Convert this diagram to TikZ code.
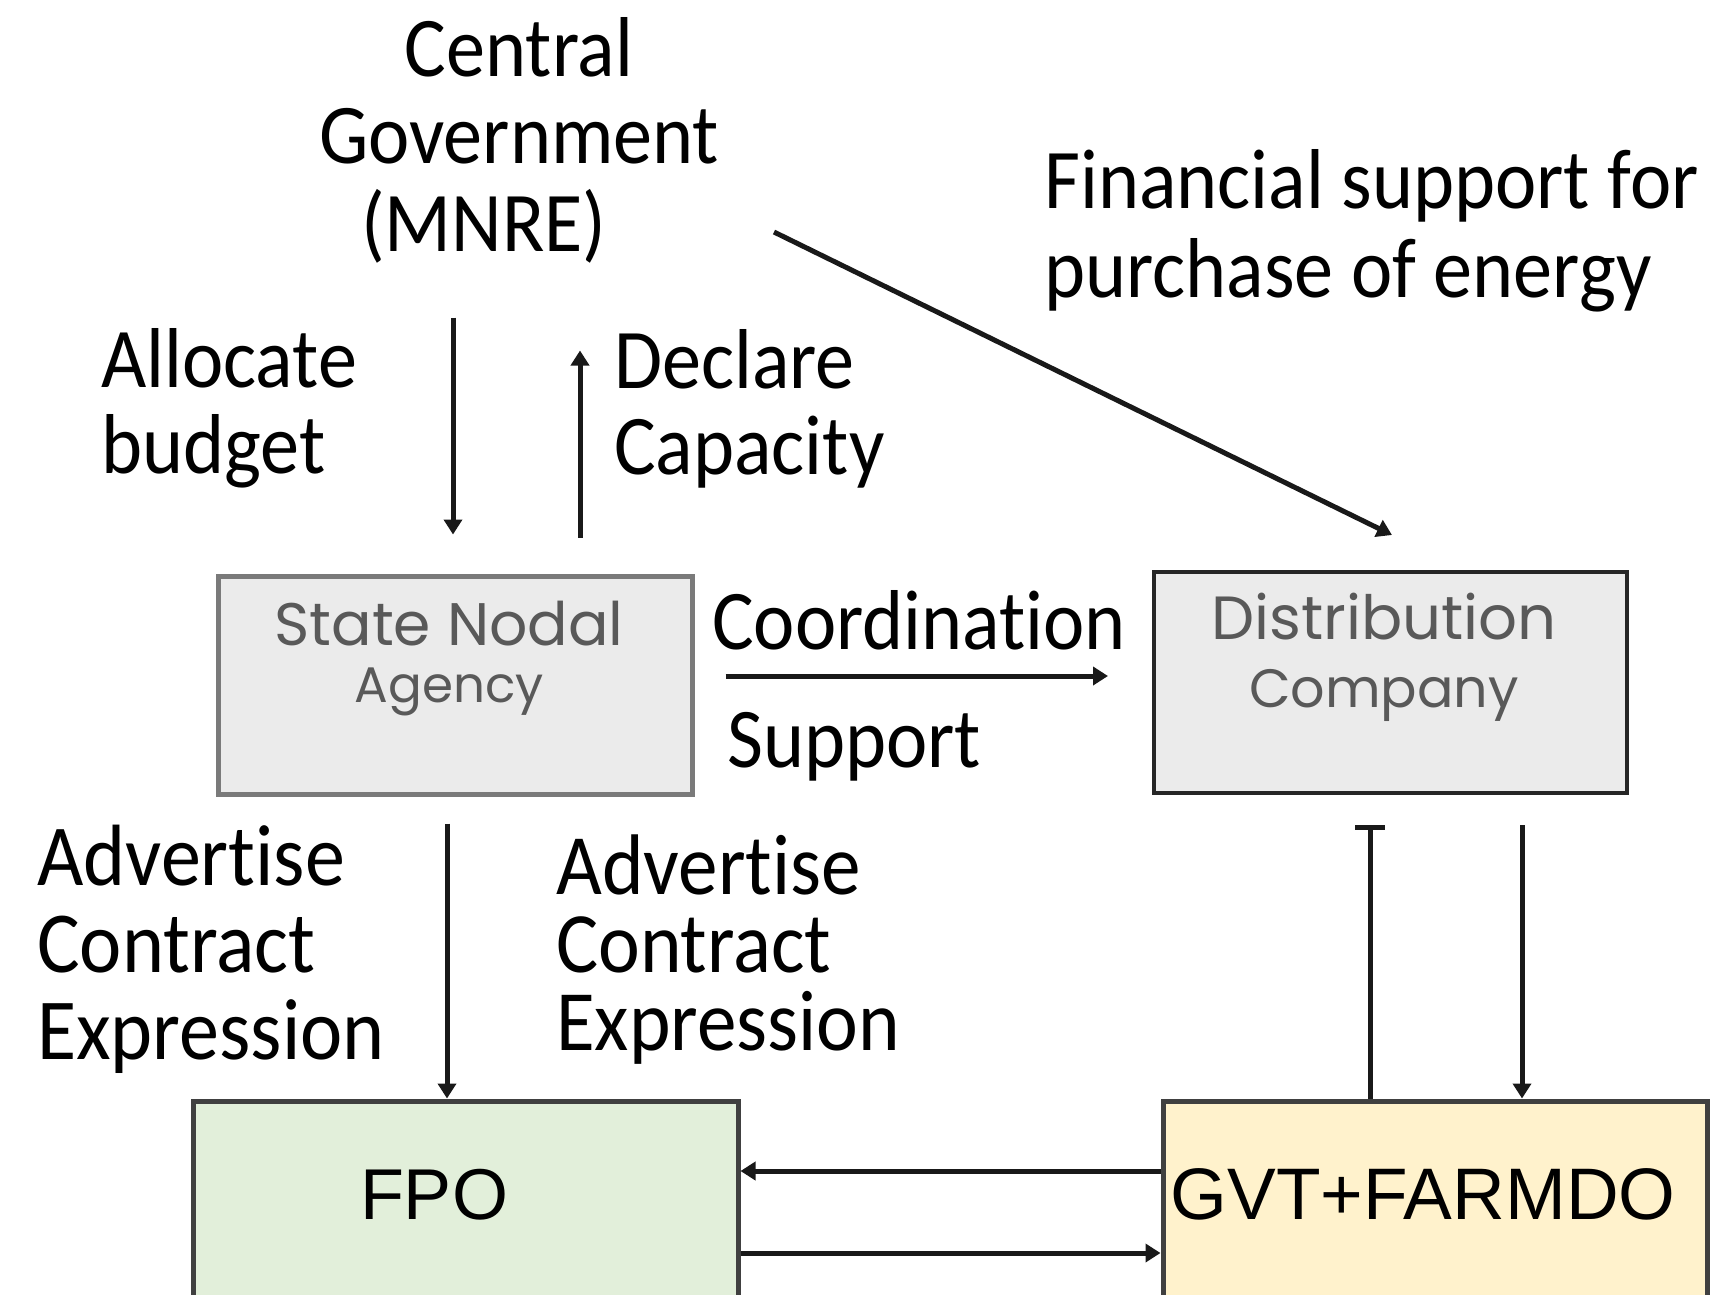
\documentclass[tikz,border=0pt]{standalone}
\usepackage{fontspec}
\usetikzlibrary{arrows.meta}

\newfontfamily\lblfont{Carlito}[FakeStretch=0.92, Ligatures=NoCommon]
\newfontfamily\boxfont{Poppins}
\newfontfamily\arialfont{Liberation Sans}

\definecolor{boxgray}{HTML}{EBEBEB}
\definecolor{fpogreen}{HTML}{E2EFDA}
\definecolor{gvtyellow}{HTML}{FFF2CC}
\definecolor{txtgray}{HTML}{595959}

\tikzset{
  lbl/.style={inner sep=0pt, align=left, anchor=base west, font=\lblfont\fontsize{85}{86}\selectfont},
  box/.style={rectangle, line width=5pt, inner sep=0pt},
  boxtxt/.style={inner sep=0pt, align=center, anchor=base, text=txtgray},
  link/.style={line width=5pt, draw=black!90, -{Triangle[length=15pt,width=18pt]}},
}

\begin{document}
\begin{tikzpicture}[x=1pt,y=-1pt]
\useasboundingbox (0,0) rectangle (1710,1295);
%Boxes
\node[box, draw=black!52, fill=boxgray, minimum width=474pt, minimum height=218pt] (sna) at (455,685) {};
\node[box, draw=black!85, line width=4pt, fill=boxgray, minimum width=473pt, minimum height=221pt] (dist) at (1390.5,682.5) {};
\node[box, draw=black!75, fill=fpogreen, minimum width=545pt, minimum height=244pt] (fpo) at (465.5,1223) {};
\node[box, draw=black!75, fill=gvtyellow, minimum width=544pt, minimum height=244pt] (gvt) at (1435,1223) {};
%Box texts (anchored on the last line)
\node[boxtxt, font=\boxfont\fontsize{60}{57}\selectfont] (snatxt) at (449,702) {State Nodal\\\fontsize{50}{57}\selectfont Agency};
\node[boxtxt, font=\boxfont\fontsize{61}{68}\selectfont] (disttxt) at (1384,707) {Distribution\\\fontsize{54}{68}\selectfont Company};
\node[inner sep=0pt, anchor=base, font=\arialfont\fontsize{72}{80}\selectfont] (fpotxt) at (434,1219) {FPO};
\node[inner sep=0pt, anchor=base, font=\arialfont\fontsize{73}{80}\selectfont] (gvttxt) at (1423,1219) {GVT+FARMDO};
%Labels
\node[lbl, align=center, anchor=base, font=\lblfont\fontsize{85}{87.5}\selectfont] (mnre) at (519,251) {Central\\Government\\(MNRE)\hspace*{70pt}};
\node[lbl] (alloc) at (101,473) {Allocate\\budget};
\node[lbl] (declare) at (614,474) {Declare\\Capacity};
\node[lbl, font=\lblfont\fontsize{85}{89}\selectfont] (fin) at (1044,297) {Financial support for\\purchase of energy};
\node[lbl] (coord) at (712,649) {Coordination};
\node[lbl] (supp) at (727,767) {Support};
\node[lbl, font=\lblfont\fontsize{87}{87}\selectfont] (advl) at (37,1059) {Advertise\\Contract\\Expression};
\node[lbl, font=\lblfont\fontsize{86}{78}\selectfont] (advr) at (556,1050) {Advertise\\Contract\\Expression};
%Arrows
\coordinate (finstart) at (774,232);
\draw[link] ([xshift=-2pt,yshift=256pt]sna.north) -- ([xshift=-2pt,yshift=39pt]sna.north);
\draw[link] ([xshift=125pt,yshift=36pt]sna.north) -- ([xshift=125pt,yshift=223pt]sna.north);
\draw[link] (finstart) -- ([xshift=1.5pt,yshift=35pt]dist.north);
\draw[link] ([xshift=31pt,yshift=9pt]sna.east) -- ([xshift=-44pt,yshift=6.5pt]dist.west);
\draw[link] ([xshift=-8pt,yshift=-27pt]sna.south) -- ([xshift=-18.5pt]fpo.north);
\draw[line width=5pt, draw=black!90, -{Bar[width=30pt]}] ([xshift=-65pt]gvt.north) -- ([xshift=-20.5pt,yshift=-30pt]dist.south);
\draw[link] ([xshift=131.5pt,yshift=-30pt]dist.south) -- ([xshift=87pt]gvt.north);
\draw[link] ([yshift=52pt]gvt.west) -- ([yshift=52pt]fpo.east);
\draw[link] ([yshift=-30pt]fpo.east) -- ([yshift=-30pt]gvt.west);
\end{tikzpicture}
\end{document}
